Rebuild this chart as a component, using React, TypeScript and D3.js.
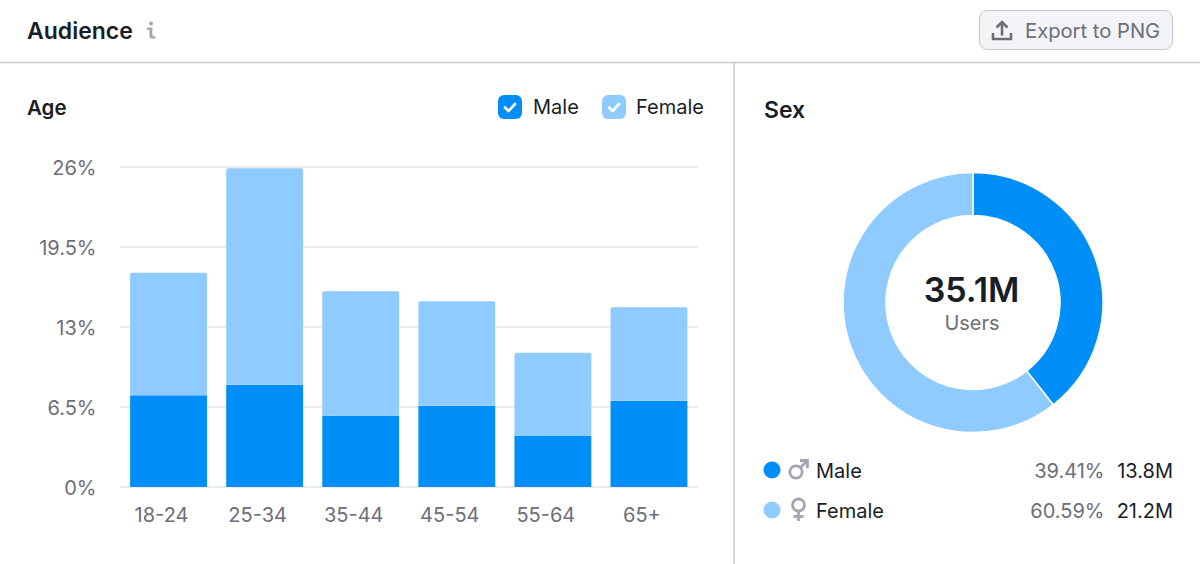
import React from 'react';
import * as d3 from 'd3';

const ageGroups = ['18-24', '25-34', '35-44', '45-54', '55-64', '65+'];
const maleShare = [7.45, 8.3, 5.8, 6.6, 4.15, 7.0];
const femaleShare = [9.95, 17.6, 10.1, 8.5, 6.75, 7.6];
const yTicks = [0, 6.5, 13, 19.5, 26];
const sexLabels = ['Male', 'Female'];
const sexShare = [39.41, 60.59];
const sexPercent = ['39.41%', '60.59%'];
const sexUsers = ['13.8M', '21.2M'];

const BLUE = '#008ff8';
const LIGHT = '#8fcbff';
const DARK = '#181e25';
const GRAY = '#6c6e79';
const ICON = '#a4a6b2';
const RULE = '#c8cbd3';
const GRID = '#e4e6e9';
const FONT = 'Inter, sans-serif';

const x = d3.scaleBand<string>()
  .domain(ageGroups)
  .range([120.5, 697])
  .paddingInner(0.2)
  .paddingOuter(0.1);

const y = d3.scaleLinear().domain([0, 26]).range([487, 167]);

const stacked = d3.stack<number>()
  .keys(['male', 'female'])
  .value((i, key) => (key === 'male' ? maleShare[i] : femaleShare[i]))(ageGroups.map((_, i) => i));

const pie = d3.pie<number>().sort(null)(sexShare);
const arc = d3.arc<d3.PieArcDatum<number>>().innerRadius(87).outerRadius(130);

function Check({ cx, cy }: { cx: number; cy: number }) {
  return (
    <path
      d={`M${cx - 5} ${cy + 0.5}L${cx - 1.5} ${cy + 4}L${cx + 5} ${cy - 3}`}
      fill="none"
      stroke="#fff"
      strokeWidth={2.6}
      strokeLinecap="round"
      strokeLinejoin="round"
    />
  );
}

export default function App() {
  return (
    <svg
      width={1200}
      height={564}
      viewBox="0 0 1200 564"
      style={{ position: 'absolute', left: 0, top: 0, background: '#fff', fontFamily: FONT }}
    >
      {/* header */}
      <text x={27} y={38.5} fontSize={23} fontWeight={600} fill={DARK}>Audience</text>
      <g fill={ICON}>
        <circle cx={151} cy={23.5} r={2} />
        <path d="M147 27.5h5.4v7.2q0 1.6 1.6 1.6h1.4v2.2h-3.4q-2.6 0-2.6-2.8v-6h-2.4z" />
      </g>
      <rect x={979.5} y={10.5} width={193} height={39} rx={8} fill="#f3f4f7" stroke="#c4c7cf" />
      <g fill="none" stroke={GRAY} strokeWidth={2.6}>
        <path d="M1002 35.5V23M996.5 27.5l5.5-5.5 5.5 5.5" />
        <path d="M993 33v6h18v-6" />
      </g>
      <text x={1025} y={38} fontSize={20.2} fill={GRAY}>Export to PNG</text>
      <line x1={0} x2={1200} y1={62.5} y2={62.5} stroke={RULE} strokeWidth={1.5} />
      <line x1={734} x2={734} y1={62.5} y2={564} stroke={RULE} strokeWidth={1.5} />

      {/* age panel */}
      <text x={27} y={115} fontSize={20.5} fontWeight={600} fill={DARK}>Age</text>
      <rect x={498} y={95} width={24} height={24} rx={6} fill={BLUE} />
      <Check cx={510} cy={107} />
      <text x={533} y={114} fontSize={20} fill={DARK}>Male</text>
      <rect x={602} y={95} width={24} height={24} rx={6} fill={LIGHT} />
      <Check cx={614} cy={107} />
      <text x={636} y={114} fontSize={20} fill={DARK}>Female</text>

      {yTicks.map((t) => (
        <g key={t}>
          <line x1={120} x2={698} y1={y(t)} y2={y(t)} stroke={GRID} strokeWidth={1.5} />
          <text x={96.5} y={y(t) + 8} textAnchor="end" fontSize={20} fill={GRAY}>{t}%</text>
        </g>
      ))}

      {stacked.map((series) => (
        <g key={series.key} fill={series.key === 'male' ? BLUE : LIGHT}>
          {series.map((d, i) => {
            const top = y(d[1]);
            const h = y(d[0]) - top;
            const bx = x(ageGroups[i]) as number;
            const w = x.bandwidth();
            // female segment gets the small rounded top corners
            return series.key === 'female' ? (
              <path key={i} d={`M${bx} ${top + h}V${top + 2}Q${bx} ${top} ${bx + 2} ${top}H${bx + w - 2}Q${bx + w} ${top} ${bx + w} ${top + 2}V${top + h}Z`} />
            ) : (
              <rect key={i} x={bx} y={top} width={w} height={h} />
            );
          })}
        </g>
      ))}

      {ageGroups.map((g) => (
        <text
          key={g}
          x={(x(g) as number) + x.bandwidth() / 2 - 7}
          y={521.5}
          textAnchor="middle"
          fontSize={20}
          fill={GRAY}
        >
          {g}
        </text>
      ))}

      {/* sex panel */}
      <text x={764} y={118} fontSize={23} fontWeight={600} fill={DARK}>Sex</text>
      <g transform="translate(973,302.5)">
        {pie.map((d, i) => (
          <path key={i} d={arc(d) as string} fill={i === 0 ? BLUE : LIGHT} stroke="#fff" strokeWidth={1.5} />
        ))}
        <text x={-1.5} y={-1} textAnchor="middle" fontSize={34} fontWeight={600} fill={DARK}>35.1M</text>
        <text x={-1} y={27} textAnchor="middle" fontSize={20} fill={GRAY}>Users</text>
      </g>

      {sexLabels.map((label, i) => {
        const ry = 470.5 + i * 40;
        return (
          <g key={label}>
            <circle cx={772} cy={ry - 0.5} r={8.5} fill={i === 0 ? BLUE : LIGHT} />
            {i === 0 ? (
              <g fill="none" stroke={ICON} strokeWidth={2.8}>
                <circle cx={796} cy={472} r={6.2} />
                <path d="M800.5 467.5L806.5 461.5M800 460.5h7.5v7.5" />
              </g>
            ) : (
              <g fill="none" stroke={ICON} strokeWidth={2.8}>
                <circle cx={798.5} cy={505} r={6} />
                <path d="M798.5 511v10M793.5 516.5h10" />
              </g>
            )}
            <text x={816} y={ry + 7} fontSize={20} fill={DARK}>{label}</text>
            <text x={1104.5} y={ry + 7} textAnchor="end" fontSize={20} fill={GRAY}>{sexPercent[i]}</text>
            <text x={1173} y={ry + 7} textAnchor="end" fontSize={20} fill={DARK}>{sexUsers[i]}</text>
          </g>
        );
      })}
    </svg>
  );
}
